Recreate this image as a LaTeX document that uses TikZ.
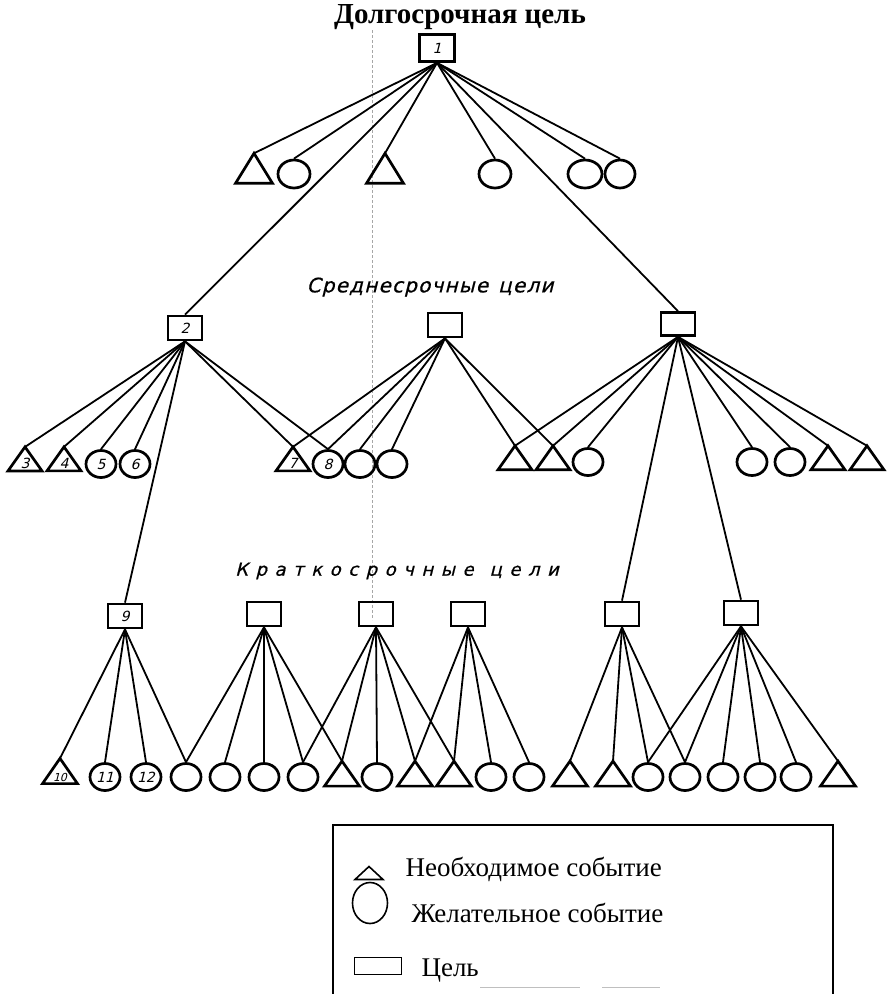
\documentclass[tikz,border=0pt]{standalone}
\usepackage{fontspec}
\setmainfont{Liberation Serif}
\newfontfamily\gostA[FakeSlant=0.25, FakeBold=0.6, LetterSpace=6]{DejaVu Sans}
\newfontfamily\gostB[FakeSlant=0.25, FakeBold=0.6, LetterSpace=42]{DejaVu Sans}
\newfontfamily\gostN[FakeSlant=0.25]{DejaVu Sans}
\usetikzlibrary{shapes.geometric}
\begin{document}
\begin{tikzpicture}[x=1pt,y=-1pt,
  shp/.style={draw, line width=2.7pt, inner sep=0pt, font=\gostN\fontsize{14}{14}\selectfont},
  goal/.style={shp, rectangle, minimum width=34pt, minimum height=24pt},
  tri/.style={shp, outer sep=0pt, isosceles triangle, isosceles triangle stretches, shape border rotate=90, minimum height=#1},
  triA/.style={tri=30pt, minimum width=37pt},
  triB/.style={tri=24pt, minimum width=34pt},
  triC/.style={tri=25pt, minimum width=35pt},
  wish/.style={shp, ellipse, minimum width=30pt, minimum height=27pt},
  wishA/.style={wish, minimum width=32pt, minimum height=28pt},
  link/.style={line width=1.8pt},
  lgtext/.style={anchor=base west, font=\fontsize{27}{27}\selectfont}
]
\useasboundingbox (0,0) rectangle (892,994);
% fold line of the scan
\draw[black!35, line width=0.8pt, dash pattern=on 3pt off 2pt] (372,30) -- (372,620);
\draw[black!25, line width=1pt] (480,987) -- (580,987) (602,987) -- (660,987);

% title
\node[font=\bfseries\fontsize{29}{29}\selectfont] (title) at (460,17) {Долгосрочная цель};

% level 0
\node[goal, minimum width=35pt, minimum height=27pt] (b1) at (437,48) {1};

% level 1 events
\node[triA] (t1a) at (254,173) {};
\node[wishA] (c1a) at (294,174) {};
\node[triA] (t1b) at (385,173) {};
\node[wishA] (c1b) at (495,174) {};
\node[wishA, minimum width=34pt] (c1c) at (585,174) {};
\node[wishA, minimum width=30pt] (c1d) at (620,174) {};

% level 2 goals
\node[font=\gostA\fontsize{20}{20}\selectfont] (midlbl) at (430,287) {Среднесрочные\hspace{10pt}цели};
\node[goal] (b2) at (185,328) {2};
\node[goal] (bm) at (445,325) {};
\node[goal, minimum height=23pt] (br) at (678,324) {};

% level 2 events
\node[triB] (t3) at (25,463) {3};
\node[triB] (t4) at (64,463) {4};
\node[wish] (c5) at (101,464) {5};
\node[wish] (c6) at (135,464) {6};
\node[triB] (t7) at (293,463) {7};
\node[wish] (c8) at (328,464) {8};
\node[wish] (c2c) at (360,464) {};
\node[wish] (c2d) at (392,464) {};
\node[triB] (t2e) at (515,461) {};
\node[triB] (t2f) at (553,461) {};
\node[wish] (c2g) at (588,462) {};
\node[wish] (c2h) at (752,462) {};
\node[wish] (c2i) at (790,462) {};
\node[triB] (t2j) at (828,461) {};
\node[triB] (t2k) at (867,461) {};

% level 3 goals
\node[font=\gostB\fontsize{18}{18}\selectfont] (shortlbl) at (397,571) {Краткосрочные\hspace{16pt}цели};
\node[goal] (b9) at (125,616) {9};
\node[goal] (bb) at (264,614) {};
\node[goal] (bc) at (376,614) {};
\node[goal] (bd) at (468,614) {};
\node[goal] (be) at (622,614) {};
\node[goal] (bf) at (741,613) {};

% level 3 events
\node[triC, font=\gostN\fontsize{11}{11}\selectfont] (t10) at (60,777) {10};
\node[wish] (c11) at (105,777) {11};
\node[wish] (c12) at (146,777) {12};
\node[wish] (c3d) at (186,777) {};
\node[wish] (c3e) at (225,777) {};
\node[wish] (c3f) at (264,777) {};
\node[wish] (c3g) at (303,777) {};
\node[triC] (t3h) at (342,777) {};
\node[wish] (c3i) at (377,777) {};
\node[triC] (t3j) at (415,777) {};
\node[triC] (t3k) at (454,777) {};
\node[wish] (c3l) at (491,777) {};
\node[wish] (c3m) at (529,777) {};
\node[triC] (t3n) at (570,777) {};
\node[triC] (t3o) at (613,777) {};
\node[wish] (c3p) at (648,777) {};
\node[wish] (c3q) at (685,777) {};
\node[wish] (c3r) at (723,777) {};
\node[wish] (c3s) at (760,777) {};
\node[wish] (c3t) at (796,777) {};
\node[triC] (t3u) at (838,777) {};

% connectors
\foreach \c in {t1a.apex,c1a.north,b2.north,t1b.apex,c1b.north,br.north,c1c.north,c1d.north} \draw[link] (b1.south) -- (\c);
\foreach \c in {t3.apex,t4.apex,c5.north,c6.north,t7.apex,c8.north,b9.north} \draw[link] (b2.south) -- (\c);
\foreach \c in {t7.apex,c8.north,c2c.north,c2d.north,t2e.apex,t2f.apex} \draw[link] (bm.south) -- (\c);
\foreach \c in {t2e.apex,t2f.apex,c2g.north,c2h.north,c2i.north,t2j.apex,t2k.apex,be.north,bf.north} \draw[link] (br.south) -- (\c);
\foreach \c in {t10.apex,c11.north,c12.north,c3d.north} \draw[link] (b9.south) -- (\c);
\foreach \c in {c3d.north,c3e.north,c3f.north,c3g.north,t3h.apex} \draw[link] (bb.south) -- (\c);
\foreach \c in {c3g.north,t3h.apex,c3i.north,t3j.apex,t3k.apex} \draw[link] (bc.south) -- (\c);
\foreach \c in {t3j.apex,t3k.apex,c3l.north,c3m.north} \draw[link] (bd.south) -- (\c);
\foreach \c in {t3n.apex,t3o.apex,c3p.north,c3q.north} \draw[link] (be.south) -- (\c);
\foreach \c in {c3p.north,c3q.north,c3r.north,c3s.north,c3t.north,t3u.apex} \draw[link] (bf.south) -- (\c);

% legend
\draw[line width=1.3pt] (333,994) -- (333,825) -- (833,825) -- (833,994);
\node[shp, outer sep=0pt, line width=1.6pt, isosceles triangle, isosceles triangle stretches, shape border rotate=90, minimum width=28pt, minimum height=13pt] (lgt) at (369,874) {};
\node[lgtext] (lgtt) at (402,876) {Необходимое событие};
\node[shp, line width=1.6pt, ellipse, minimum width=35pt, minimum height=41pt] (lgc) at (370,903) {};
\node[lgtext] (lgct) at (408,922) {Желательное событие};
\node[shp, line width=1.2pt, rectangle, minimum width=47pt, minimum height=17pt] (lgr) at (378,966) {};
\node[lgtext] (lgrt) at (418,976) {Цель};
\end{tikzpicture}
\end{document}
